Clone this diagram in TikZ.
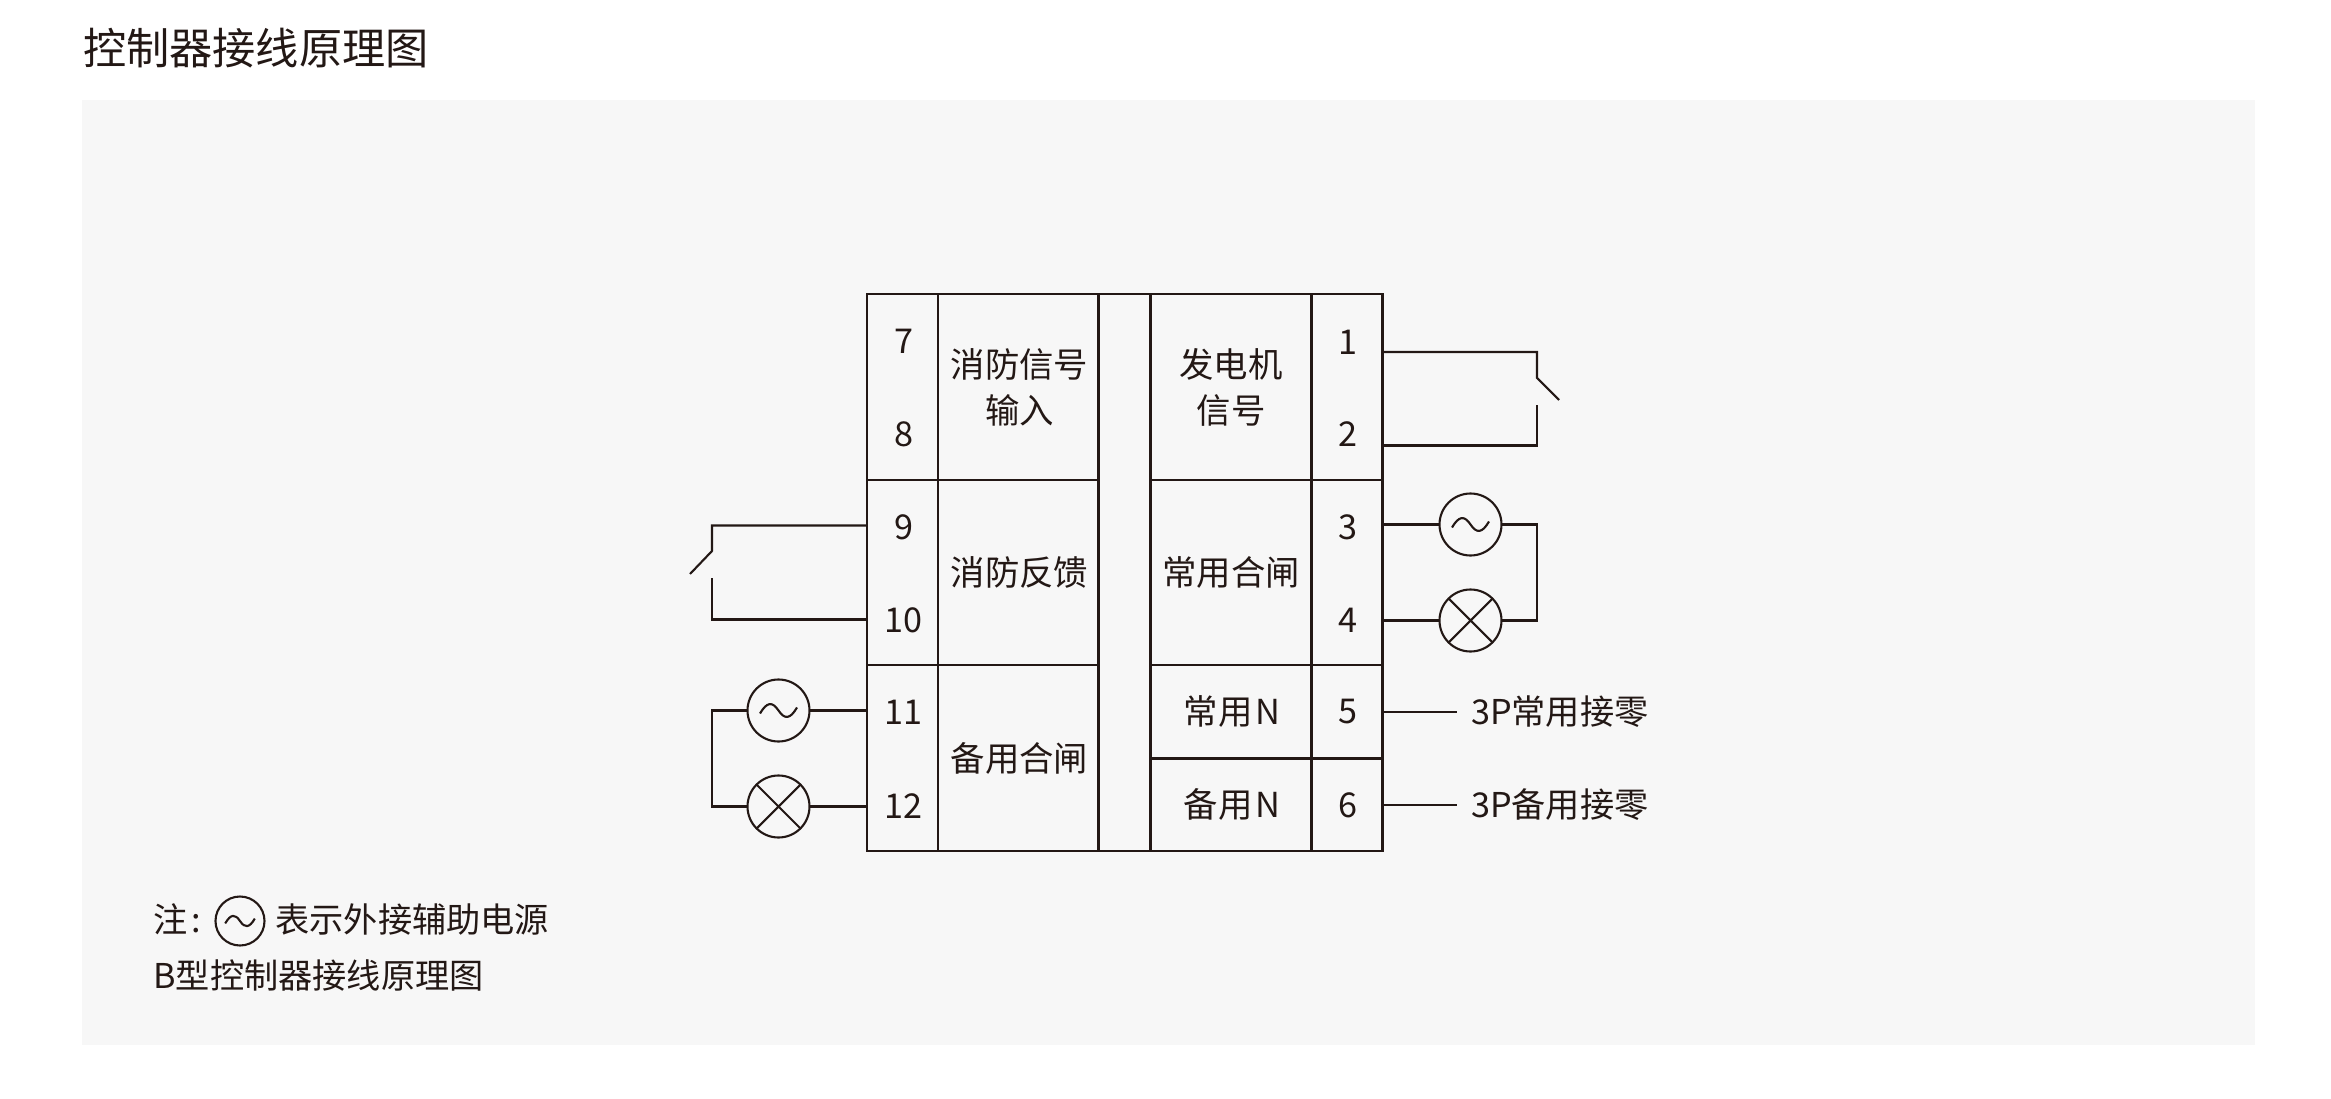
\documentclass[tikz,border=0pt]{standalone}
\usepackage{fontspec}
\setmainfont{Noto Sans CJK SC}
\definecolor{inkbrown}{HTML}{231815}
\definecolor{panelgray}{HTML}{F7F7F7}
\tikzset{
  wire/.style={draw=inkbrown,line width=2.1pt,line join=miter},
  cellbox/.style={draw=inkbrown,line width=2.4pt,inner sep=0pt,outer sep=0pt,align=center,
    text=inkbrown,font=\fontsize{34.4}{46}\selectfont},
  txt/.style={inner sep=0pt,outer sep=0pt,text=inkbrown,font=\fontsize{34.2}{40}\selectfont},
  srcring/.style={circle,draw=inkbrown,line width=2.1pt,minimum size=62pt,inner sep=0pt,outer sep=0pt},
}
\newcommand{\acwave}[2][1]{\draw[wire] (#2) ++(-18.5*#1,3*#1) .. controls +(7*#1,-12*#1) and +(-6*#1,-9*#1) .. ++(18.5*#1,-3*#1)
  .. controls +(6*#1,9*#1) and +(-7*#1,12*#1) .. ++(18.5*#1,-3*#1);}
\begin{document}
\begin{tikzpicture}[x=1pt,y=-1pt]
\useasboundingbox (0,0) rectangle (2331,1099);
\fill[panelgray] (82,100) rectangle (2255,1045);
\node[txt,anchor=west,font=\fontsize{43.2}{50}\selectfont] (title) at (83,48) {控制器接线原理图};
% left half
\node[cellbox,minimum width=71,minimum height=186] (portA) at (902.5,387) {};
\node[cellbox,minimum width=71,minimum height=185] (portB) at (902.5,572.5) {};
\node[cellbox,minimum width=71,minimum height=186] (portC) at (902.5,758) {};
\node[cellbox,minimum width=160,minimum height=186] (fireIn) at (1018,387) {\kern3pt 消防信号\\\kern3pt 输入};
\node[cellbox,minimum width=160,minimum height=185] (fireFb) at (1018,572.5) {\kern3pt 消防反馈};
\node[cellbox,minimum width=160,minimum height=186] (backupOn) at (1018,758) {\kern3pt 备用合闸};
% middle
\node[cellbox,minimum width=52,minimum height=557] (middle) at (1124.5,572.5) {};
% right half
\node[cellbox,minimum width=161,minimum height=186] (genSig) at (1231,387) {发电机\\信号};
\node[cellbox,minimum width=161,minimum height=185] (mainOn) at (1231,572.5) {常用合闸};
\node[cellbox,minimum width=161,minimum height=93.5] (mainN) at (1231,711.75) {\kern2pt 常用\kern3pt N};
\node[cellbox,minimum width=161,minimum height=92.5] (backupN) at (1231,804.75) {\kern2pt 备用\kern3pt N};
\node[cellbox,minimum width=71,minimum height=186] (portD) at (1347,387) {};
\node[cellbox,minimum width=71,minimum height=185] (portE) at (1347,572.5) {};
\node[cellbox,minimum width=71,minimum height=93.5] (portF) at (1347,711.75) {};
\node[cellbox,minimum width=71,minimum height=92.5] (portG) at (1347,804.75) {};
% terminal numbers
\foreach \num/\py in {7/341,8/434.5,9/527.5,10/620.5,11/712,12/806}
  \node[txt] (num\num) at (903.5,\py) {\num};
\foreach \num/\py in {1/342,2/434,3/527,4/620,5/712,6/805}
  \node[txt] (num\num) at (1348,\py) {\num};
% switch on 9 and 10
\coordinate (w9) at (867,525.5);
\coordinate (w10) at (867,619.5);
\coordinate (swA) at (712,525.5);
\coordinate (swB) at (712,551);
\coordinate (swC) at (690,574);
\coordinate (swD) at (712,578);
\coordinate (swE) at (712,619.5);
\draw[wire] (w9) -- (swA) -- (swB) -- (swC);
\draw[wire] (swD) -- (swE) -- (w10);
% switch on 1 and 2
\coordinate (w1) at (1382.5,352);
\coordinate (w2) at (1382.5,445.5);
\coordinate (swF) at (1537,352);
\coordinate (swG) at (1537,378);
\coordinate (swH) at (1559,400);
\coordinate (swI) at (1537,405);
\coordinate (swJ) at (1537,445.5);
\draw[wire] (w1) -- (swF) -- (swG) -- (swH);
\draw[wire] (swI) -- (swJ) -- (w2);
% source and lamp, left
\node[srcring] (acL) at (778.5,710.5) {};
\node[srcring] (lampL) at (778.5,806.5) {};
\acwave{acL}
\draw[wire] (lampL.45) -- (lampL.225) (lampL.135) -- (lampL.315);
\coordinate (w11) at (867,710.5);
\coordinate (w12) at (867,806.5);
\coordinate (busA) at (712,710.5);
\coordinate (busB) at (712,806.5);
\draw[wire] (w11) -- (acL.east);
\draw[wire] (w12) -- (lampL.east);
\draw[wire] (acL.west) -- (busA) -- (busB) -- (lampL.west);
% source and lamp, right
\node[srcring] (acR) at (1470.5,524.5) {};
\node[srcring] (lampR) at (1470.5,620.5) {};
\acwave{acR}
\draw[wire] (lampR.45) -- (lampR.225) (lampR.135) -- (lampR.315);
\coordinate (w3) at (1382.5,524.5);
\coordinate (w4) at (1382.5,620.5);
\coordinate (busC) at (1537,524.5);
\coordinate (busD) at (1537,620.5);
\draw[wire] (w3) -- (acR.west);
\draw[wire] (w4) -- (lampR.west);
\draw[wire] (acR.east) -- (busC) -- (busD) -- (lampR.east);
% neutral lines
\coordinate (w5) at (1382.5,712);
\coordinate (w6) at (1382.5,805);
\node[txt,anchor=west,inner xsep=14pt] (neutA) at (1457,712) {3P常用接零};
\node[txt,anchor=west,inner xsep=14pt] (neutB) at (1457,805) {3P备用接零};
\draw[wire] (w5) -- (neutA.west);
\draw[wire] (w6) -- (neutB.west);
% note
\node[txt,anchor=west] (noteA) at (153.5,919.5) {注\kern4pt:};
\node[srcring,minimum size=49pt] (acNote) at (240,921) {};
\acwave[0.8]{acNote}
\node[txt,anchor=west] (noteB) at (275.5,919.5) {表示外接辅助电源};
\node[txt,anchor=west] (noteC) at (153.5,975) {B型控制器接线原理图};
\end{tikzpicture}
\end{document}
